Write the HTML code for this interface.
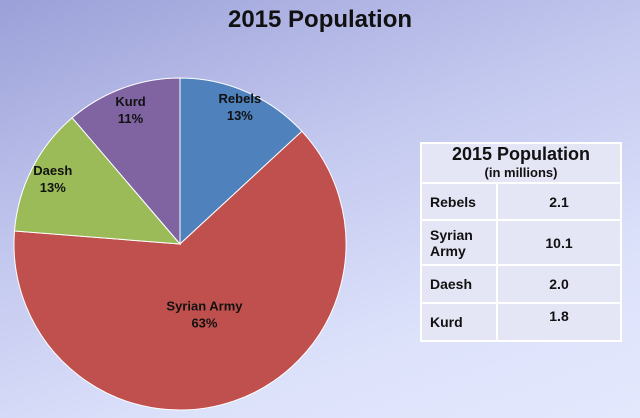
<!DOCTYPE html>
<html><head><meta charset="utf-8"><style>
body{margin:0;width:640px;height:418px;overflow:hidden;font-family:"Liberation Sans",sans-serif;}
#bg{position:absolute;left:0;top:0;width:640px;height:418px;background:linear-gradient(160deg,#9ba0d8 0%,#c3c8ef 40%,#dde2fb 75%,#e4e8fd 100%);}
#title{position:absolute;left:0;top:6px;width:640px;text-align:center;font-weight:bold;font-size:24px;color:#111;}
table{position:absolute;left:420px;top:142px;width:202px;border-collapse:collapse;background:#e4e6f6;font-weight:bold;color:#111;}
td{border:2px solid #fff;font-size:14px;padding:0 8px;}
</style></head><body>
<div id="bg"></div>
<div id="title">2015 Population</div>
<svg id="pie" width="640" height="418" style="position:absolute;left:0;top:0"></svg>
<table>
<tr style="height:40px"><td colspan="2" style="text-align:center;font-size:18px;line-height:17px">2015 Population<br><span style="font-size:13px">(in millions)</span></td></tr>
<tr style="height:37px"><td style="width:58px">Rebels</td><td style="text-align:center">2.1</td></tr>
<tr style="height:45px"><td>Syrian<br>Army</td><td style="text-align:center">10.1</td></tr>
<tr style="height:38px"><td>Daesh</td><td style="text-align:center">2.0</td></tr>
<tr style="height:38px"><td>Kurd</td><td style="text-align:center;vertical-align:top;padding-top:4px">1.8</td></tr>
</table>
<script>
const categories=["Rebels","Syrian Army","Daesh","Kurd"];
const values=[2.1,10.1,2.0,1.8];
const colors=["#4f81bd","#c0504d","#9bbb59","#8064a2"];
const pctLabels=["13%","63%","13%","11%"];
const cx=180,cy=244,r=166,labelR=[0.9,0.45,0.86,0.86];
const svg=document.getElementById('pie');
const NS="http://www.w3.org/2000/svg";
const total=values.reduce((a,b)=>a+b,0);
let a0=0;
values.forEach((v,i)=>{
  const a1=a0+v/total*2*Math.PI;
  const p=(a)=>[cx+r*Math.sin(a),cy-r*Math.cos(a)];
  const [x0,y0]=p(a0),[x1,y1]=p(a1);
  const path=document.createElementNS(NS,'path');
  path.setAttribute('d',`M${cx},${cy}L${x0},${y0}A${r},${r} 0 ${a1-a0>Math.PI?1:0} 1 ${x1},${y1}Z`);
  path.setAttribute('fill',colors[i]);
  path.setAttribute('stroke','#fff');
  path.setAttribute('stroke-width','1');
  
  
  svg.appendChild(path);
  const m=(a0+a1)/2,lr=r*labelR[i];
  const lx=cx+lr*Math.sin(m),ly=cy-lr*Math.cos(m);
  const t=document.createElementNS(NS,'text');
  t.setAttribute('x',lx);t.setAttribute('y',ly-4);
  t.setAttribute('text-anchor','middle');
  t.setAttribute('font-weight','bold');t.setAttribute('font-size','13');t.setAttribute('fill','#111');
  t.setAttribute('font-family','Liberation Sans, sans-serif');
  
  
  const s1=document.createElementNS(NS,'tspan');s1.setAttribute('x',lx);s1.textContent=categories[i];
  const s2=document.createElementNS(NS,'tspan');s2.setAttribute('x',lx);s2.setAttribute('dy','17');s2.textContent=pctLabels[i];
  t.appendChild(s1);t.appendChild(s2);svg.appendChild(t);
  a0=a1;
});
</script>
</body></html>
